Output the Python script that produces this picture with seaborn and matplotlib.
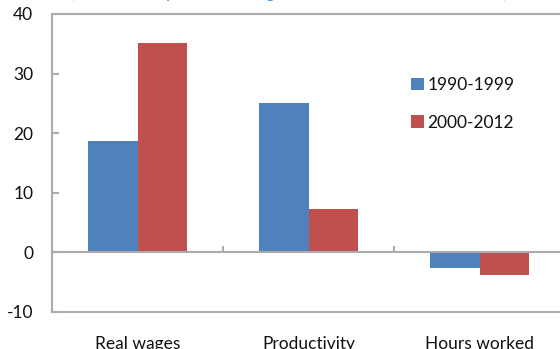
import matplotlib
matplotlib.use("Agg")
import matplotlib.pyplot as plt
import seaborn as sns
import pandas as pd

# Chart data
categories = ["Real wages", "Productivity", "Hours worked"]
periods = ["1990-1999", "2000-2012"]
values_1990s = [18.7, 25.0, -2.7]
values_2000s = [35.2, 7.2, -3.8]
y_ticks = [-10, 0, 10, 20, 30, 40]
subtitle = "(Cumulative percent change, 1990-1999 and 2000-2012)"

BLUE = "#4F81BD"
RED = "#C0504D"
GRID = "#ABABAB"

df = pd.DataFrame({
    "category": categories * 2,
    "period": [periods[0]] * 3 + [periods[1]] * 3,
    "value": values_1990s + values_2000s,
})

sns.set_theme(style="white")
plt.rcParams["font.family"] = ["Lato", "DejaVu Sans"]
plt.rcParams["axes.unicode_minus"] = False

W, H = 560, 349
fig = plt.figure(figsize=(W / 100, H / 100), dpi=100)
ax = fig.add_axes([52 / W, (H - 311.7) / H, 513 / W, (311.7 - 14) / H])

sns.barplot(data=df, x="category", y="value", hue="period",
            palette=[BLUE, RED], saturation=1, width=0.58, linewidth=0,
            order=categories, hue_order=periods, ax=ax, legend=True)

ax.set_xlim(-0.5, 2.5)
ax.set_ylim(-10, 40)
ax.set_yticks(y_ticks)
ax.set_xlabel("")
ax.set_ylabel("")

for side in ["left", "top", "bottom", "right"]:
    ax.spines[side].set_color(GRID)
    ax.spines[side].set_linewidth(1.5)

ax.axhline(0, color=GRID, lw=1.5, zorder=1)
# category separators on the zero line
ax.vlines([0.5, 1.5], 0, 1.0, color=GRID, lw=1.5, zorder=1)

ax.tick_params(axis="y", direction="in", length=5, width=1.5, color=GRID,
               pad=13.5, labelsize=12.5, labelcolor="#111111", left=True)
ax.tick_params(axis="x", length=0, pad=17.5, labelsize=12.5, labelcolor="#111111")

leg = ax.legend(loc="upper left", bbox_to_anchor=(411 / W, 1 - 77 / H),
                bbox_transform=fig.transFigure, frameon=False,
                borderpad=0, borderaxespad=0, handlelength=0.75,
                handleheight=0.75, handletextpad=0.2, labelspacing=1.25,
                fontsize=12.5)
for t in leg.get_texts():
    t.set_color("#111111")

fig.text(288.5 / W, 1 + 2 / H, subtitle, ha="center", va="baseline",
         fontsize=12.5, color="#4A90D0")

fig.savefig("out.png", dpi=100)
